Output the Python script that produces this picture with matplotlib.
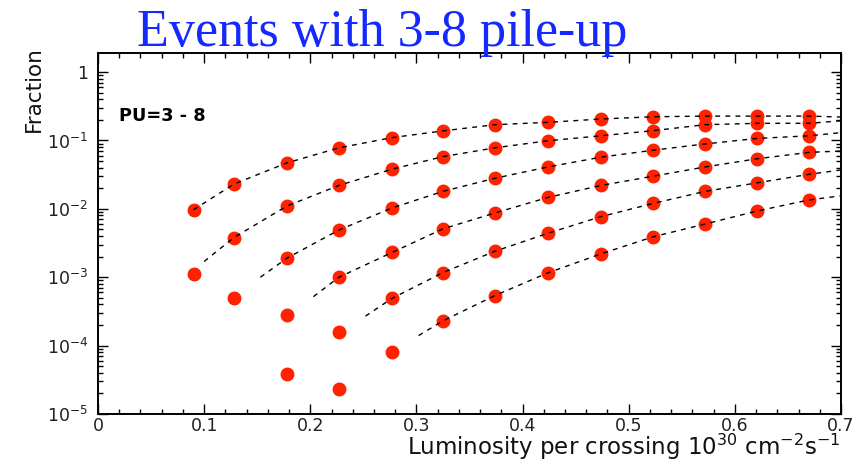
import numpy as np
import matplotlib
matplotlib.use("Agg")
import matplotlib.pyplot as plt
from matplotlib.ticker import FixedLocator, MultipleLocator, LogLocator, NullFormatter

plt.rcParams['font.family'] = ['DejaVu Sans']
plt.rcParams['mathtext.fontset'] = 'dejavusans'

# luminosity per crossing (1e30 cm^-2 s^-1)
lumi = [0.09, 0.128, 0.178, 0.227, 0.277, 0.325, 0.374, 0.424, 0.474, 0.523, 0.572, 0.621, 0.670]
nan = np.nan
# fraction of events for each pile-up value
pu3 = [0.0097, 0.023, 0.047, 0.078, 0.11, 0.138, 0.17, 0.184, 0.206, 0.222, 0.227, 0.227, 0.227]
pu4 = [1.1e-3, 3.8e-3, 0.011, 0.022, 0.038, 0.058, 0.078, 0.099, 0.117, 0.139, 0.17, 0.178, 0.178]
pu5 = [nan, 5e-4, 1.9e-3, 4.9e-3, 0.0103, 0.018, 0.028, 0.041, 0.057, 0.072, 0.089, 0.107, 0.117]
pu6 = [nan, nan, 2.8e-4, 1.0e-3, 2.3e-3, 5.1e-3, 8.7e-3, 0.0147, 0.022, 0.030, 0.041, 0.054, 0.067]
pu7 = [nan, nan, 3.8e-5, 1.6e-4, 4.9e-4, 1.17e-3, 2.4e-3, 4.4e-3, 7.7e-3, 0.012, 0.018, 0.024, 0.032]
pu8 = [nan, nan, nan, 2.3e-5, 8e-5, 2.3e-4, 5.4e-4, 1.16e-3, 2.2e-3, 3.9e-3, 6e-3, 9.3e-3, 0.0135]
series = [pu3, pu4, pu5, pu6, pu7, pu8]

# fit curve range: start point and end point
fit_x0 = [0.09, 0.10, 0.153, 0.203, 0.252, 0.302]
fit_y0 = [0.0097, 1.7e-3, 1.0e-3, 5.2e-4, 2.7e-4, 1.4e-4]
fit_x1 = 0.70
fit_y1 = [0.22, 0.194, 0.13, 0.07, 0.037, 0.0155]

yticks = [1e-5, 1e-4, 1e-3, 1e-2, 1e-1, 1]
ytick_labels = [r'$10^{-5}$', r'$10^{-4}$', r'$10^{-3}$', r'$10^{-2}$', r'$10^{-1}$', '1']
xticks = [0, 0.1, 0.2, 0.3, 0.4, 0.5, 0.6, 0.7]
xtick_labels = ['0', '0.1', '0.2', '0.3', '0.4', '0.5', '0.6', '0.7']

W, H = 861, 462
fig = plt.figure(figsize=(W / 100, H / 100), dpi=100)
ax = fig.add_axes([98 / W, 1 - 414 / H, (841 - 98) / W, (414 - 53) / H])

lx = np.array(lumi)
for i, s in enumerate(series):
    s = np.array(s)
    keep = lx > fit_x0[i] + 1e-6
    fx = np.concatenate([[fit_x0[i]], lx[keep], [fit_x1]])
    fy = np.concatenate([[fit_y0[i]], s[keep], [fit_y1[i]]])
    ln, = ax.plot(fx, fy, color='black', lw=1.0, zorder=3)
    ln.set_dashes((3.5, 3.8))
    ax.plot(lumi, s, 'o', color='#ff2200', ms=9, mec='#ff2200', zorder=2)

ax.set_yscale('log')
ax.set_xlim(0, 0.7)
ax.set_ylim(1e-5, 1.9)

ax.yaxis.set_major_locator(FixedLocator(yticks))
ax.set_yticklabels(ytick_labels)
ax.yaxis.set_minor_locator(LogLocator(base=10, subs=np.arange(2, 10)))
ax.yaxis.set_minor_formatter(NullFormatter())
ax.xaxis.set_major_locator(FixedLocator(xticks))
ax.set_xticklabels(xtick_labels)
ax.xaxis.set_minor_locator(MultipleLocator(0.02))

ax.tick_params(which='both', direction='in', top=True, right=True, width=1.0, colors='black')
ax.tick_params(which='major', length=7.5)
ax.tick_params(which='minor', length=3.8)
ax.tick_params(axis='y', which='major', labelsize=12.5, pad=7, labelcolor='#222222')
ax.tick_params(axis='x', which='major', labelsize=12.5, pad=2.5, labelcolor='#222222')
for sp in ax.spines.values():
    sp.set_linewidth(1.4)

ax.text(0.028, 0.826, 'PU=3 - 8', transform=ax.transAxes, fontsize=12.8,
        fontweight='bold', ha='left', va='center')

fig.text(840 / W, 1 - 455 / H, r'Luminosity per crossing $10^{30}$ cm$^{-2}$s$^{-1}$',
         fontsize=16.5, ha='right', va='baseline', color='#111111')
fig.text(34 / W, 1 - 46 / H, 'Fraction', rotation=90, fontsize=15.5,
         ha='center', va='top', color='#111111')
fig.text(137 / W, 1 - 46 / H, 'Events with 3-8 pile-up', fontsize=37.5,
         family=['Liberation Serif', 'DejaVu Serif'], color='#1428ff',
         ha='left', va='baseline')

fig.savefig('out.png', dpi=100)
